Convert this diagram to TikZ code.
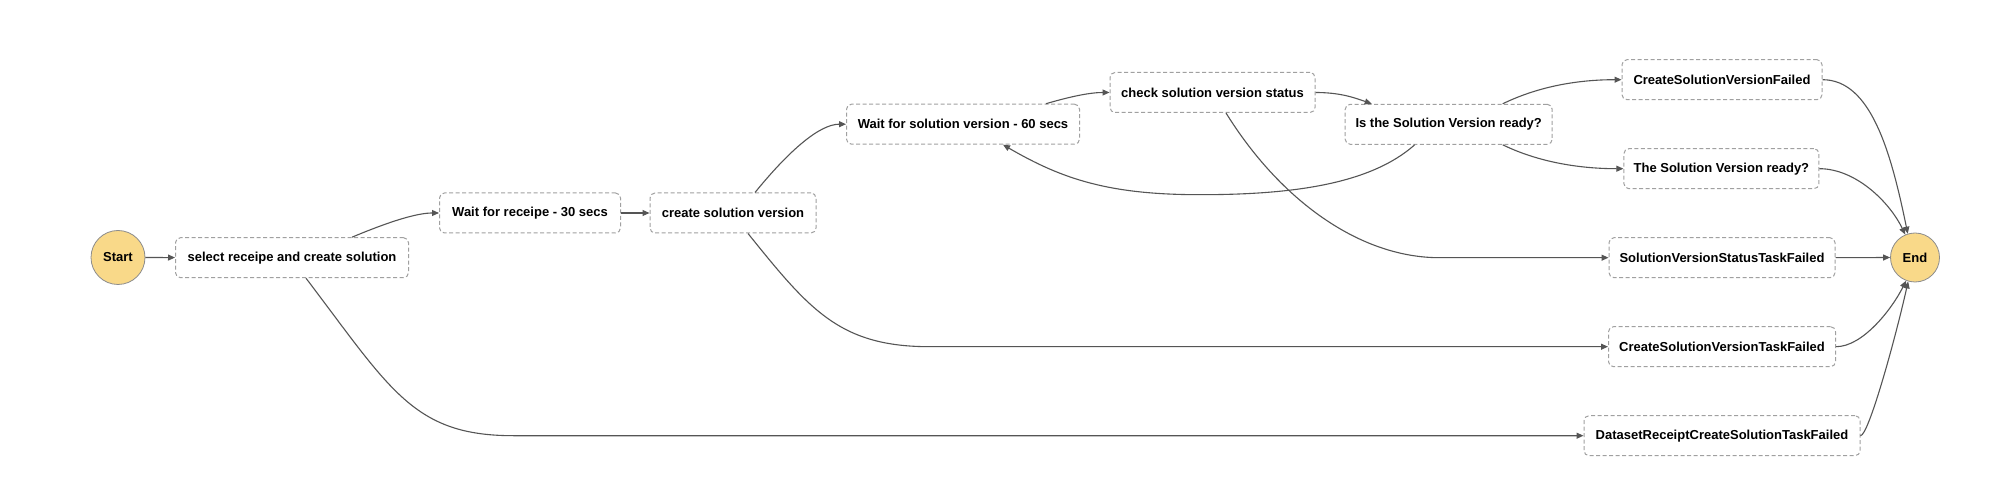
\documentclass[tikz,border=0pt]{standalone}
\usepackage{fontspec}
\setmainfont{Liberation Sans}
\usetikzlibrary{arrows.meta}
\definecolor{termfill}{RGB}{249,217,137}
\definecolor{termline}{RGB}{140,140,140}
\definecolor{boxline}{RGB}{160,160,160}
\definecolor{edgecol}{RGB}{85,85,85}
\tikzset{
  stepbox/.style={draw=boxline, line width=1pt, dash pattern=on 4pt off 2.5pt, rounded corners=5pt,
    fill=white, minimum height=40pt, inner sep=0pt, font=\fontsize{13pt}{15pt}\selectfont\bfseries},
  term/.style={circle, draw=termline, line width=0.8pt, fill=termfill, inner sep=0pt,
    font=\fontsize{13pt}{15pt}\selectfont\bfseries},
  conn/.style={draw=edgecol, line width=1.1pt, -{Triangle[length=7pt,width=6pt]}},
}
\begin{document}
\begin{tikzpicture}[x=1pt,y=-1pt]
\useasboundingbox (0,0) rectangle (2008,502);
\fill[white] (0,0) rectangle (2008,502);
% nodes
\node[term, minimum size=54pt] (start) at (118,257.5) {Start};
\node[stepbox, minimum width=233pt] (sel) at (292,257.7) {select receipe and create solution};
\node[stepbox, minimum width=181pt] (w30) at (530,213) {Wait for receipe - 30 secs};
\node[stepbox, minimum width=166pt] (csv) at (733,213) {create solution version};
\node[stepbox, minimum width=233pt] (w60) at (963,124.2) {Wait for solution version - 60 secs};
\node[stepbox, minimum width=205pt] (chk) at (1212.5,92.5) {check solution version status};
\node[stepbox, minimum width=207pt] (isr) at (1448.7,124.3) {Is the Solution Version ready?};
\node[stepbox, minimum width=200pt] (csvf) at (1722,79.7) {CreateSolutionVersionFailed};
\node[stepbox, minimum width=195pt] (tsvr) at (1721.4,168.7) {The Solution Version ready?};
\node[stepbox, minimum width=226pt] (svstf) at (1722,257.7) {SolutionVersionStatusTaskFailed};
\node[stepbox, minimum width=227pt] (csvtf) at (1722,346.7) {CreateSolutionVersionTaskFailed};
\node[stepbox, minimum width=276pt] (drcstf) at (1722,435.7) {DatasetReceiptCreateSolutionTaskFailed};
\node[term, minimum size=49pt] (end) at (1915,257.5) {End};
% waypoints
\coordinate (lb) at ([xshift=237pt,yshift=-50pt]w60.south);
\coordinate (pa) at ([xshift=-169pt]svstf.west);
\coordinate (pb) at ([xshift=-678pt]csvtf.west);
\coordinate (pc) at ([xshift=-1070pt]drcstf.west);
% connectors
\draw[conn] (start) -- (sel);
\draw[conn] ([xshift=60pt]sel.north) .. controls +(43,-18) and +(-20,0) .. (w30.west);
\draw[conn] (w30) -- (csv);
\draw[conn] ([xshift=22pt]csv.north) .. controls +(35,-43) and +(-26,0) .. (w60.west);
\draw[conn] ([xshift=83pt]w60.north) .. controls +(24,-7) and +(-20,0) .. (chk.west);
\draw[conn] (chk.east) .. controls +(25,0) and +(-17,-6) .. ([xshift=-77pt]isr.north);
\draw[conn] ([xshift=54pt]isr.north) .. controls +(37,-18) and +(-42,0) .. (csvf.west);
\draw[conn] ([xshift=54pt]isr.south) .. controls +(37,18) and +(-42,0) .. (tsvr.west);
\draw[conn] ([xshift=-34pt]isr.south) .. controls +(-45,40) and +(90,0) .. (lb)
   .. controls +(-90,0) and +(60,35) .. ([xshift=40pt]w60.south);
\draw[conn] ([xshift=13.5pt]chk.south) .. controls +(54,87) and +(-80,0) .. (pa) -- (svstf.west);
\draw[conn] ([xshift=15pt]csv.south) .. controls +(62,77) and +(-90,0) .. (pb) -- (csvtf.west);
\draw[conn] ([xshift=14pt]sel.south) .. controls +(85,112) and +(-100,0) .. (pc) -- (drcstf.west);
\draw[conn] (csvf.east) .. controls +(48,0) and +(-17,-83) .. (end.107);
\draw[conn] (tsvr.east) .. controls +(36,0) and +(-16,-33) .. (end.113);
\draw[conn] (svstf.east) -- (end.west);
\draw[conn] (csvtf.east) .. controls +(27,0) and +(-14,28) .. (end.249);
\draw[conn] (drcstf.east) .. controls +(8,0) and +(-13,58) .. (end.254);
\end{tikzpicture}
\end{document}
